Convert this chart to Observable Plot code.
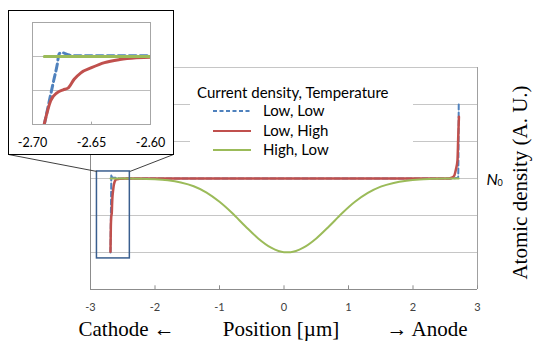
<!DOCTYPE html>
<html><head><meta charset="utf-8">
<script src="https://cdn.jsdelivr.net/npm/d3@7"></script>
<script src="https://cdn.jsdelivr.net/npm/@observablehq/plot@0.6"></script>
<style>
html,body{margin:0;padding:0;background:#fff;}
#chart{position:relative;width:533px;height:350px;overflow:hidden;font-family:Lato,sans-serif;}
#chart > svg{position:absolute;left:0;top:0;}
#inset{position:absolute;left:8px;top:10px;width:166px;height:145px;box-sizing:border-box;border:1px solid #000;background:#fff;}
#inset svg{position:absolute;left:0;top:0;}
#legend{position:absolute;left:190px;top:75px;width:223px;height:86px;background:#fff;color:#000;font-size:15px;}
#legend .t{position:absolute;left:7px;top:8px;white-space:nowrap;}
#legend .it{position:absolute;left:23px;height:16px;white-space:nowrap;}
#legend .it svg{position:absolute;left:0;top:4px;}
#legend .it span{position:absolute;left:50px;top:-2px;}
</style></head><body><div id="chart"></div>
<script>
// ---- data ----
const seriesNames = ["Low, Low", "Low, High", "High, Low"];
const seriesColors = ["#4F81BD", "#C0504D", "#9BBB59"];
const legendTitle = "Current density, Temperature";

const lowLowX = [-2.690, -2.686, -2.682, -2.679, -2.6775, -2.6746, -2.670, -2.665, -2.600, -2.55, 0, 2.60, 2.700, 2.706, 2.709];
const lowLowY = [-2.00, -1.35, -0.70, -0.23, 0.08, 0.11, 0.05, 0.02, 0.02, 0, 0, 0, 0.02, 1.00, 2.00];

const lowHighX = [-2.690, -2.6846, -2.679, -2.674, -2.670, -2.6647, -2.659, -2.650, -2.639, -2.626, -2.612, -2.600, -2.55, -2.45, 0, 2.50, 2.55, 2.60, 2.64, 2.665, 2.69, 2.70, 2.712];
const lowHighY = [-1.98, -1.30, -1.06, -0.98, -0.93, -0.67, -0.48, -0.33, -0.18, -0.09, -0.04, -0.02, -0.01, 0, 0, 0, 0, 0.02, 0.08, 0.24, 0.50, 1.05, 1.67];

const highLowX = [-2.69, -2.4, -2.2, -2.0, -1.8, -1.6, -1.4, -1.2, -1.0, -0.8, -0.6, -0.4, -0.2, 0.0, 0.1, 0.3, 0.5, 0.7, 0.9, 1.1, 1.3, 1.5, 1.7, 1.9, 2.1, 2.3, 2.5, 2.71];
const highLowY = [0, 0, -0.01, -0.02, -0.05, -0.11, -0.21, -0.38, -0.63, -0.94, -1.29, -1.62, -1.87, -1.99, -1.99, -1.87, -1.62, -1.29, -0.94, -0.63, -0.39, -0.22, -0.12, -0.06, -0.025, -0.01, 0, 0];

const xTicks = [-3, -2, -1, 0, 1, 2, 3];
const gridY = [-2, -1, 0, 1, 2, 3];
const insetTicks = [-2.70, -2.65, -2.60];
const insetGridY = [-1, 0];
const zoomWindow = {x1: -2.9, x2: -2.39, y1: -2.16, y2: 0.19};

const toRows = (xs, ys) => xs.map((x, i) => ({x, y: ys[i]}));
const series = [
  {name: seriesNames[0], rows: toRows(lowLowX, lowLowY), color: seriesColors[0], dash: "5,3", w: 2, wi: 3, dashi: "7,4"},
  {name: seriesNames[1], rows: toRows(lowHighX, lowHighY), color: seriesColors[1], dash: null, w: 2.5, wi: 3, dashi: null},
  {name: seriesNames[2], rows: toRows(highLowX, highLowY), color: seriesColors[2], dash: null, w: 2, wi: 3, dashi: null}
];

const W = 533, H = 350;
const M = {left: 90, right: 56, top: 67, bottom: 61};
const insetBox = {left: 8, top: 10, width: 166, height: 145};
const serif = "Liberation Serif, 'Times New Roman', serif";

function mainPlot(extra) {
  return Plot.plot({
    width: W, height: H,
    marginLeft: M.left, marginRight: M.right, marginTop: M.top, marginBottom: M.bottom,
    x: {domain: [-3, 3]},
    y: {domain: [-3, 3], axis: null},
    style: {fontFamily: "Lato, sans-serif", background: "transparent", overflow: "visible"},
    marks: [
      Plot.ruleY(gridY, {stroke: "#c6c6c6", strokeWidth: 1}),
      Plot.ruleX([3], {stroke: "#a0a0a0"}),
      Plot.ruleX([-3], {stroke: "#8c8c8c"}),
      Plot.ruleY([-3], {stroke: "#8c8c8c"}),
      Plot.ruleX(xTicks, {x: d => d, y1: -3, y2: -2.9, stroke: "#8c8c8c"}),
      Plot.axisX(xTicks, {tickSize: 0, tickPadding: 14, fontSize: 11, fill: "#404040", label: null, tickFormat: d => String(d)}),
      ...series.map(s => Plot.line(s.rows, {x: "x", y: "y", stroke: s.color, strokeWidth: s.w, strokeDasharray: s.dash, curve: "monotone-x"})),
      Plot.rect([zoomWindow], {x1: "x1", x2: "x2", y1: "y1", y2: "y2", fill: "none", stroke: "#3a5f8f", strokeWidth: 1.5}),
      ...(extra || []),
      Plot.text(["N"], {x: () => 3, y: () => 0, text: d => d, dx: 9, dy: 1, textAnchor: "start", fontStyle: "italic", fontSize: 16, fill: "#000"}),
      Plot.text(["0"], {x: () => 3, y: () => 0, text: d => d, dx: 20, dy: 5, textAnchor: "start", fontSize: 9, fill: "#000"}),
      Plot.text(["Atomic density (A. U.)"], {frameAnchor: "right", text: d => d, rotate: -90, textAnchor: "middle", dx: 43, dy: 4, fontSize: 21, fontFamily: serif, fill: "#000"}),
      Plot.text(["Cathode \u2190"], {x: () => -3, frameAnchor: "bottom", text: d => d, dx: -12, dy: 46, textAnchor: "start", fontSize: 21, fontFamily: serif, fill: "#000"}),
      Plot.text(["Position [\u00b5m]"], {x: () => 0, frameAnchor: "bottom", text: d => d, dx: -3, dy: 46, textAnchor: "middle", fontSize: 21, fontFamily: serif, fill: "#000"}),
      Plot.text(["\u2192 Anode"], {x: () => 3, frameAnchor: "bottom", text: d => d, dx: -10, dy: 46, textAnchor: "end", fontSize: 21, fontFamily: serif, fill: "#000"})
    ]
  });
}

const first = mainPlot();
const sx = first.scale("x"), sy = first.scale("y");
const bl = {x: sx.invert(insetBox.left), y: sy.invert(insetBox.top + insetBox.height - 1)};
const br = {x: sx.invert(insetBox.left + insetBox.width - 1), y: sy.invert(insetBox.top + insetBox.height - 1)};
const connectors = [
  {x1: bl.x, y1: bl.y, x2: zoomWindow.x1, y2: zoomWindow.y2},
  {x1: br.x, y1: br.y, x2: zoomWindow.x2, y2: zoomWindow.y2}
];
const main = mainPlot([Plot.link(connectors, {x1: "x1", y1: "y1", x2: "x2", y2: "y2", stroke: "#404040", strokeWidth: 1})]);

const chart = document.getElementById("chart");
chart.appendChild(main);

// legend
const legend = document.createElement("div");
legend.id = "legend";
let html = `<div class="t">${legendTitle}</div>`;
series.forEach((s, i) => {
  html += `<div class="it" style="top:${28 + i * 19.5}px"><svg width="40" height="8"><line x1="0" x2="38" y1="4" y2="4" stroke="${s.color}" stroke-width="2.2" ${s.dash ? 'stroke-dasharray="4,2.5"' : ''}/></svg><span>${s.name}</span></div>`;
});
legend.innerHTML = html;
chart.appendChild(legend);

// inset
const inset = document.createElement("div");
inset.id = "inset";
const insetPlot = Plot.plot({
  width: 164, height: 143,
  marginLeft: 23, marginRight: 23, marginTop: 11, marginBottom: 30,
  x: {domain: [-2.70, -2.60]},
  y: {domain: [-2, 1], axis: null},
  style: {fontFamily: "Lato, sans-serif", background: "transparent", overflow: "visible"},
  marks: [
    Plot.ruleY(insetGridY, {stroke: "#bdbdbd"}),
    Plot.frame({stroke: "#a6a6a6"}),
    Plot.ruleX(insetTicks, {x: d => d, y1: -2, y2: -1.93, stroke: "#a6a6a6"}),
    Plot.axisX(insetTicks, {tickSize: 0, tickPadding: 14, fontSize: 12.5, fill: "#000", label: null, tickFormat: d => d.toFixed(2)}),
    ...series.map(s => Plot.line(s.rows, {x: "x", y: "y", stroke: s.color, strokeWidth: s.wi, strokeDasharray: s.dashi, curve: "monotone-x", clip: true}))
  ]
});
inset.appendChild(insetPlot);
chart.appendChild(inset);
</script>
</body></html>
